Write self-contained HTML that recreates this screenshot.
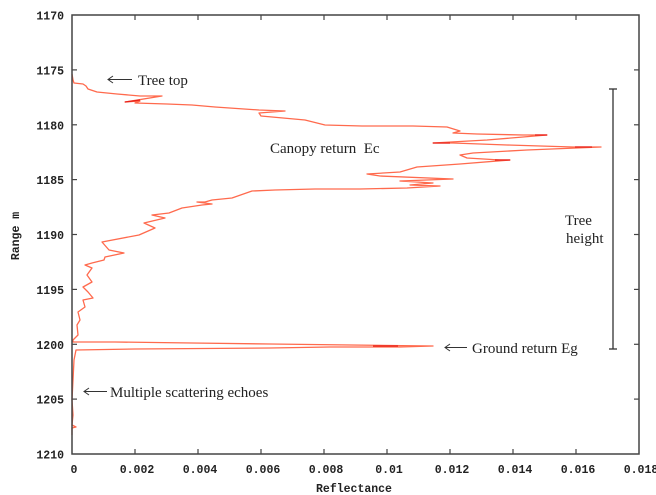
<!DOCTYPE html>
<html>
<head>
<meta charset="utf-8">
<style>
  html, body { margin: 0; padding: 0; background: #fff; }
  body { width: 656px; height: 495px; overflow: hidden; }
  svg { display: block; }
  .tick { font-family: "Liberation Mono", "DejaVu Sans Mono", monospace; font-weight: bold; font-size: 11.5px; fill: #222; }
  .ann { font-family: "Liberation Serif", "DejaVu Serif", serif; font-size: 15px; fill: #222; }
</style>
</head>
<body>
<svg width="656" height="495" viewBox="0 0 656 495" xmlns="http://www.w3.org/2000/svg">
  <rect x="0" y="0" width="656" height="495" fill="#fff"/>

  <!-- curve -->
  <polyline fill="none" stroke="#ff6a4d" stroke-width="1.3" stroke-linejoin="round" points="
    72,74 73,80 74,83 83,84 86,86 88,89 97,92 117,94 140,96 162,96 125,102 140,101 135,103 167,104 192,105 215,107 259,110 285,111 259,113 261,116 305,120 325,125 362,126 413,126 447,127 460,131 453,133 477,134 523,135 547,135 487,140 433,143 453,143 507,145 573,147 601,147 527,150 473,153 460,155 467,158 500,160 510,160 460,164 417,167 400,172 367,174 380,176 453,179 400,181 433,183 410,185 440,186 407,188 360,189 315,189 275,190 252,191 232,198 212,200 205,202 197,202 212,204 202,205 182,208 169,213 152,215 165,218 144,223 155,228 139,235 102,242 109,250 124,253 105,257 104,260 92,263 85,265 92,268 87,275 92,282 83,287 88,292 93,298 83,300 85,307 78,312 80,320 77,325 78,335 73,340 73,342 115,342 192,343 270,344 433,346 400,347 330,347 270,348 135,349 76,350 74,360 73,380 72,400 73,415 72,425 76,427 72,428 72,435"/>
  <!-- darker spike accents -->
  <g stroke="#e8201a" stroke-width="1.3" fill="none">
    <line x1="125" y1="102" x2="140" y2="100"/>
    <line x1="535" y1="135" x2="547" y2="135"/>
    <line x1="433" y1="143" x2="450" y2="143"/>
    <line x1="575" y1="147" x2="592" y2="147"/>
    <line x1="495" y1="160" x2="510" y2="160"/>
    <line x1="373" y1="346" x2="398" y2="346"/>
  </g>

  <!-- frame -->
  <rect x="72" y="15" width="567" height="439" fill="none" stroke="#444" stroke-width="1.5"/>

  <!-- y ticks -->
  <g stroke="#444" stroke-width="1.2">
    <line x1="72" y1="69.9" x2="77" y2="69.9"/><line x1="634" y1="69.9" x2="639" y2="69.9"/>
    <line x1="72" y1="124.8" x2="77" y2="124.8"/><line x1="634" y1="124.8" x2="639" y2="124.8"/>
    <line x1="72" y1="179.6" x2="77" y2="179.6"/><line x1="634" y1="179.6" x2="639" y2="179.6"/>
    <line x1="72" y1="234.5" x2="77" y2="234.5"/><line x1="634" y1="234.5" x2="639" y2="234.5"/>
    <line x1="72" y1="289.4" x2="77" y2="289.4"/><line x1="634" y1="289.4" x2="639" y2="289.4"/>
    <line x1="72" y1="344.3" x2="77" y2="344.3"/><line x1="634" y1="344.3" x2="639" y2="344.3"/>
    <line x1="72" y1="399.1" x2="77" y2="399.1"/><line x1="634" y1="399.1" x2="639" y2="399.1"/>
  </g>
  <!-- x ticks -->
  <g stroke="#444" stroke-width="1.2">
    <line x1="135" y1="454" x2="135" y2="449"/><line x1="135" y1="15" x2="135" y2="20"/>
    <line x1="198" y1="454" x2="198" y2="449"/><line x1="198" y1="15" x2="198" y2="20"/>
    <line x1="261" y1="454" x2="261" y2="449"/><line x1="261" y1="15" x2="261" y2="20"/>
    <line x1="324" y1="454" x2="324" y2="449"/><line x1="324" y1="15" x2="324" y2="20"/>
    <line x1="387" y1="454" x2="387" y2="449"/><line x1="387" y1="15" x2="387" y2="20"/>
    <line x1="450" y1="454" x2="450" y2="449"/><line x1="450" y1="15" x2="450" y2="20"/>
    <line x1="513" y1="454" x2="513" y2="449"/><line x1="513" y1="15" x2="513" y2="20"/>
    <line x1="576" y1="454" x2="576" y2="449"/><line x1="576" y1="15" x2="576" y2="20"/>
  </g>

  <!-- y labels -->
  <g class="tick" text-anchor="end">
    <text x="64" y="19.5">1170</text>
    <text x="64" y="74.4">1175</text>
    <text x="64" y="129.3">1180</text>
    <text x="64" y="184.1">1185</text>
    <text x="64" y="239">1190</text>
    <text x="64" y="293.9">1195</text>
    <text x="64" y="348.8">1200</text>
    <text x="64" y="403.6">1205</text>
    <text x="64" y="458.5">1210</text>
  </g>
  <!-- x labels -->
  <g class="tick" text-anchor="middle">
    <text x="74" y="473">0</text>
    <text x="137" y="473">0.002</text>
    <text x="200" y="473">0.004</text>
    <text x="263" y="473">0.006</text>
    <text x="326" y="473">0.008</text>
    <text x="389" y="473">0.01</text>
    <text x="452" y="473">0.012</text>
    <text x="515" y="473">0.014</text>
    <text x="578" y="473">0.016</text>
    <text x="641" y="473">0.018</text>
  </g>

  <text class="tick" x="354" y="492" text-anchor="middle">Reflectance</text>
  <text class="tick" transform="translate(19,236) rotate(-90)" text-anchor="middle">Range m</text>

  <!-- annotations -->
  <g stroke="#333" stroke-width="1" fill="none">
    <line x1="108" y1="79.5" x2="132" y2="79.5"/>
    <polyline points="113,76 108,79.5 113,83"/>
    <line x1="445" y1="347.5" x2="467" y2="347.5"/>
    <polyline points="450,344 445,347.5 450,351"/>
    <line x1="84" y1="391.5" x2="107" y2="391.5"/>
    <polyline points="89,388 84,391.5 89,395"/>
    <!-- tree height bar -->
    <line x1="613" y1="89" x2="613" y2="349" stroke-width="1.3"/>
    <line x1="609" y1="89" x2="617" y2="89" stroke-width="1.3"/>
    <line x1="609" y1="349" x2="617" y2="349" stroke-width="1.3"/>
  </g>

  <text class="ann" x="138" y="85">Tree top</text>
  <text class="ann" x="270" y="153">Canopy return&#160;&#160;Ec</text>
  <text class="ann" x="472" y="353">Ground return Eg</text>
  <text class="ann" x="110" y="397">Multiple scattering echoes</text>
  <text class="ann" x="565" y="225">Tree</text>
  <text class="ann" x="566" y="243">height</text>
</svg>
</body>
</html>
